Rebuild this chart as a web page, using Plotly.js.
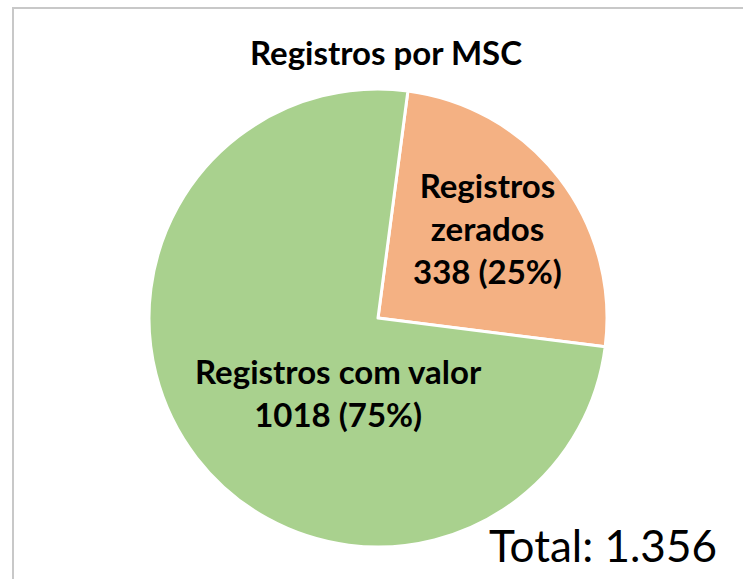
<!DOCTYPE html>
<html>
<head>
<meta charset="utf-8">
<script src="https://cdn.plot.ly/plotly-3.0.1.min.js"></script>
<style>
  html, body { margin: 0; padding: 0; background: #ffffff; }
  #wrap { position: relative; width: 743px; height: 579px; overflow: hidden; }
  #chart { width: 743px; height: 579px; }
  #frame { position: absolute; left: 12px; top: 7px; width: 760px; height: 600px;
           border: 2px solid #c8c8c8; box-sizing: border-box; pointer-events: none; }
</style>
</head>
<body>
<div id="wrap">
  <div id="chart"></div>
  <div id="frame"></div>
</div>
<script>
const categories = ["Registros zerados", "Registros com valor"];
const values = [338, 1018];
const colors = ["#F4B183", "#A9D18E"];
const titleText = "Registros por MSC";
const totalLabel = "Total: ";

const total = values.reduce((a, b) => a + b, 0);
const pct = values.map(v => Math.round(100 * v / total));
const fmtTotal = total.toLocaleString("pt-BR");

const W = 743, H = 579;
const cx = 378, cy = 318, r = 229;
const px = x => x / W;
const py = y => 1 - y / H;

const FONT = "Lato, 'Open Sans', sans-serif";

const trace = {
  type: "pie",
  labels: categories,
  values: values,
  sort: false,
  direction: "clockwise",
  rotation: 7.5,
  marker: { colors: colors, line: { color: "#ffffff", width: 3 } },
  textinfo: "none",
  hoverinfo: "label+value+percent",
  showlegend: false,
  domain: { x: [px(cx - r), px(cx + r)], y: [py(cy + r), py(cy - r)] }
};

const labelText = [
  "Registros<br>zerados<br>" + values[0] + " (" + pct[0] + "%)",
  categories[1] + "<br>" + values[1] + " (" + pct[1] + "%)"
];

const layout = {
  width: W, height: H,
  margin: { l: 0, r: 0, t: 0, b: 0 },
  paper_bgcolor: "#ffffff",
  title: {
    text: "<b>" + titleText + "</b>",
    font: { family: FONT, size: 33, color: "#000000" },
    x: px(386), xanchor: "center",
    y: py(53), yanchor: "middle"
  },
  annotations: [
    {
      text: "<b>" + labelText[0] + "</b>",
      x: px(487), y: py(228), xref: "paper", yref: "paper",
      xanchor: "center", yanchor: "middle", showarrow: false, align: "center",
      font: { family: FONT, size: 33, color: "#000000" }
    },
    {
      text: "<b>" + labelText[1] + "</b>",
      x: px(338), y: py(392), xref: "paper", yref: "paper",
      xanchor: "center", yanchor: "middle", showarrow: false, align: "center",
      font: { family: FONT, size: 33, color: "#000000" }
    },
    {
      text: totalLabel + fmtTotal,
      x: px(603), y: py(545), xref: "paper", yref: "paper",
      xanchor: "center", yanchor: "middle", showarrow: false,
      font: { family: FONT, size: 44, color: "#000000" }
    }
  ]
};

Plotly.newPlot("chart", [trace], layout, { displayModeBar: false, staticPlot: true });
</script>
</body>
</html>
